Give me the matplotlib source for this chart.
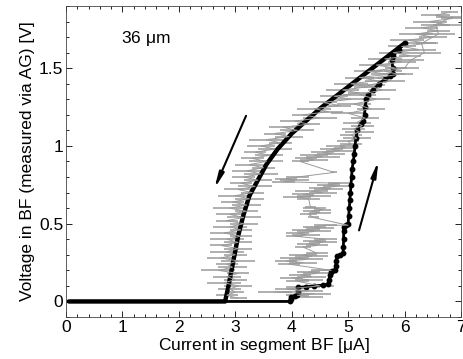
import numpy as np
import matplotlib
matplotlib.use('Agg')
import matplotlib.pyplot as plt
from matplotlib.ticker import MultipleLocator, FormatStrFormatter

plt.rcParams['font.family'] = ['Liberation Sans', 'DejaVu Sans']
plt.rcParams['mathtext.fontset'] = 'custom'

# black curve, current sweep down (V vs I)
down_i = [6.0, 5.5, 5.0, 4.5, 4.0, 3.75, 3.55, 3.4, 3.25, 3.14, 3.05, 2.96, 2.88, 2.82, 2.0, 1.0, 0.05]
down_v = [1.66, 1.52, 1.38, 1.24, 1.08, 0.98, 0.88, 0.78, 0.68, 0.55, 0.42, 0.25, 0.10, 0.0, 0.0, 0.0, 0.0]

# black curve, current sweep up (steps)
up_i = [0.05, 1.0, 2.0, 3.0, 3.97, 3.98, 3.99, 4.05, 4.10, 4.11, 4.12, 4.25, 4.40, 4.55, 4.65, 4.66, 4.68,
        4.69, 4.72, 4.77, 4.78, 4.79, 4.80, 4.85, 4.91, 4.915, 4.92, 4.92, 4.93, 4.97, 5.00, 5.01, 5.02,
        5.03, 5.04, 5.05, 5.06, 5.07, 5.09, 5.11, 5.12, 5.14, 5.16, 5.22, 5.27, 5.29, 5.30, 5.32, 5.36,
        5.44, 5.55, 5.65, 5.75, 5.80, 5.79, 5.78, 5.80, 5.90, 6.00]
up_v = [0.0, 0.0, 0.0, 0.0, 0.0, 0.015, 0.03, 0.035, 0.04, 0.06, 0.09, 0.095, 0.10, 0.105, 0.11, 0.14, 0.17,
        0.19, 0.195, 0.20, 0.23, 0.26, 0.29, 0.30, 0.31, 0.35, 0.40, 0.45, 0.48, 0.49, 0.50, 0.55, 0.60,
        0.65, 0.70, 0.75, 0.80, 0.85, 0.90, 0.95, 1.00, 1.05, 1.10, 1.14, 1.16, 1.20, 1.25, 1.30, 1.33,
        1.36, 1.40, 1.43, 1.45, 1.46, 1.50, 1.55, 1.58, 1.62, 1.66]

# gray measured trace, sweep up (zig-zag clusters), with horizontal error
gu_i = [4.30, 4.10, 4.40, 3.70, 4.30, 3.90, 4.20, 4.50,
        4.10, 4.30, 4.00, 4.35, 4.15, 4.45, 4.30, 4.55, 4.70,
        3.95, 4.20, 3.90, 4.25, 4.05, 4.35, 4.20, 4.45,
        4.20, 4.45, 4.30, 4.55, 4.40, 4.60,
        4.05, 4.25, 4.10, 4.40, 4.25, 4.50, 4.40, 4.60, 5.00,
        4.38, 4.30, 4.50, 4.35, 4.55, 4.40, 4.33,
        4.30, 4.10, 4.40, 4.20, 4.55, 4.35, 4.65, 4.50, 4.80, 4.65, 4.85,
        3.85, 4.05, 3.90, 4.10, 4.75,
        4.15, 4.40, 4.25, 4.55, 4.40, 4.70, 4.55, 4.85, 4.70, 4.95, 4.85, 5.05,
        5.00, 5.15, 5.05, 5.20, 5.10, 5.25, 5.15,
        5.30, 5.00, 5.40, 5.10, 5.50, 5.20, 5.60, 5.35, 5.75, 5.50, 5.90, 5.65, 6.00,
        6.10, 6.35, 6.30, 6.60, 6.55, 6.85]
gu_v = [0.03, 0.04, 0.05, 0.06, 0.07, 0.08, 0.09, 0.10,
        0.13, 0.14, 0.15, 0.16, 0.17, 0.18, 0.19, 0.20, 0.20,
        0.24, 0.25, 0.26, 0.27, 0.28, 0.29, 0.30, 0.31,
        0.35, 0.36, 0.37, 0.38, 0.39, 0.40,
        0.42, 0.43, 0.44, 0.45, 0.46, 0.47, 0.48, 0.49, 0.49,
        0.54, 0.56, 0.57, 0.58, 0.59, 0.60, 0.61,
        0.66, 0.67, 0.68, 0.69, 0.70, 0.71, 0.72, 0.73, 0.74, 0.75, 0.76,
        0.77, 0.78, 0.79, 0.80, 0.83,
        0.90, 0.91, 0.92, 0.93, 0.94, 0.95, 0.96, 0.97, 0.98, 0.99, 1.00, 1.01,
        1.03, 1.05, 1.07, 1.09, 1.11, 1.13, 1.15,
        1.18, 1.21, 1.24, 1.27, 1.30, 1.33, 1.36, 1.39, 1.42, 1.44, 1.46, 1.48, 1.50,
        1.55, 1.60, 1.66, 1.72, 1.78, 1.83]
gu_err = [0.25, 0.20, 0.30, 0.30, 0.25, 0.20, 0.30, 0.25,
          0.20, 0.25, 0.20, 0.25, 0.20, 0.25, 0.20, 0.20, 0.10,
          0.20, 0.25, 0.20, 0.30, 0.25, 0.30, 0.25, 0.20,
          0.15, 0.20, 0.20, 0.25, 0.20, 0.20,
          0.15, 0.25, 0.20, 0.30, 0.25, 0.25, 0.20, 0.20, 0.05,
          0.10, 0.15, 0.20, 0.15, 0.15, 0.20, 0.10,
          0.20, 0.25, 0.30, 0.20, 0.25, 0.30, 0.25, 0.20, 0.25, 0.20, 0.20,
          0.20, 0.25, 0.20, 0.20, 0.05,
          0.15, 0.25, 0.20, 0.30, 0.25, 0.25, 0.20, 0.25, 0.20, 0.20, 0.25, 0.20,
          0.20, 0.25, 0.20, 0.25, 0.20, 0.20, 0.25,
          0.25, 0.30, 0.25, 0.30, 0.25, 0.30, 0.25, 0.30, 0.25, 0.30, 0.25, 0.30, 0.25,
          0.25, 0.30, 0.25, 0.30, 0.25, 0.30]

# gray measured trace, sweep down
gd_i = [6.80, 6.55, 6.85, 6.45, 6.75, 6.30, 6.60, 6.20, 6.50, 6.05, 6.40, 5.95, 6.25, 5.80, 6.10, 5.65,
        5.95, 5.50, 5.85, 5.35, 5.70, 5.20, 5.50, 5.05, 5.35, 4.90, 5.20, 4.75, 5.05, 4.55, 4.85, 4.40,
        4.65, 4.20, 4.50, 4.05, 4.30, 3.85, 4.10, 3.70, 3.95, 3.55, 3.80, 3.45, 3.70, 3.35, 3.60, 3.30,
        3.55, 3.25, 3.50, 3.20, 3.45, 3.15, 3.40, 3.10, 3.35, 3.05, 3.30, 3.00, 3.25, 2.95, 3.20, 2.90,
        3.20, 2.90, 3.15, 2.85, 3.15, 2.90, 3.10, 2.80, 3.10, 2.85, 3.05, 2.75, 3.05, 2.85, 3.00, 2.75,
        3.05, 2.85, 2.95, 2.70, 3.05, 2.85, 3.00, 2.80, 3.05, 2.90, 3.00, 2.85, 3.05]
gd_v = [1.86, 1.84, 1.82, 1.80, 1.78, 1.76, 1.74, 1.72, 1.70, 1.68, 1.66, 1.64, 1.62, 1.60, 1.58, 1.56,
        1.54, 1.52, 1.50, 1.48, 1.46, 1.44, 1.42, 1.40, 1.38, 1.36, 1.34, 1.32, 1.30, 1.28, 1.26, 1.24,
        1.22, 1.20, 1.18, 1.16, 1.14, 1.12, 1.10, 1.08, 1.06, 1.04, 1.02, 1.00, 0.98, 0.96, 0.94, 0.92,
        0.90, 0.88, 0.86, 0.84, 0.82, 0.80, 0.78, 0.76, 0.74, 0.72, 0.70, 0.68, 0.66, 0.64, 0.62, 0.60,
        0.58, 0.56, 0.54, 0.52, 0.50, 0.48, 0.46, 0.44, 0.42, 0.40, 0.38, 0.36, 0.34, 0.32, 0.30, 0.28,
        0.26, 0.24, 0.22, 0.20, 0.18, 0.16, 0.14, 0.12, 0.10, 0.08, 0.06, 0.04, 0.02]
gd_err = [0.15, 0.25, 0.20, 0.30, 0.25, 0.30, 0.20, 0.30, 0.25, 0.30, 0.20, 0.25, 0.30, 0.25, 0.20, 0.30,
          0.25, 0.30, 0.20, 0.25, 0.30, 0.25, 0.20, 0.30, 0.25, 0.30, 0.20, 0.25, 0.30, 0.25, 0.20, 0.30,
          0.25, 0.20, 0.30, 0.25, 0.20, 0.25, 0.30, 0.20, 0.25, 0.30, 0.20, 0.25, 0.30, 0.20, 0.25, 0.20,
          0.30, 0.25, 0.20, 0.25, 0.30, 0.20, 0.25, 0.20, 0.30, 0.25, 0.20, 0.30, 0.25, 0.20, 0.25, 0.30,
          0.20, 0.25, 0.30, 0.20, 0.25, 0.30, 0.20, 0.25, 0.20, 0.30, 0.25, 0.20, 0.25, 0.30, 0.20, 0.25,
          0.30, 0.20, 0.25, 0.30, 0.20, 0.25, 0.20, 0.30, 0.25, 0.20, 0.15, 0.20, 0.15]

# direction arrows: (tail, head)
arrow_down = [(3.21, 1.21), (2.61, 0.71)]
arrow_up = [(5.18, 0.44), (5.55, 0.92)]

fig = plt.figure(figsize=(4.63, 3.59), dpi=100)
ax = fig.add_axes([66 / 463, 42 / 359, 395 / 463, 311 / 359])

gray = '#9a9a9a'
ax.errorbar(gu_i, gu_v, xerr=gu_err, color=gray, lw=0.7, elinewidth=1.1, capsize=0)
ax.errorbar(gd_i, gd_v, xerr=gd_err, color=gray, lw=0.7, elinewidth=1.1, capsize=0)

ax.plot(up_i, up_v, '-', color='black', lw=2.0)
ax.plot(up_i[4:], up_v[4:], 'o', color='black', ms=3.2)
ax.plot(down_i, down_v, '-', color='black', lw=3.2, solid_capstyle='round')

for (x0, y0), (x1, y1) in (arrow_down, arrow_up):
    ax.annotate('', xy=(x1, y1), xytext=(x0, y0),
                arrowprops=dict(arrowstyle='-|>,head_length=0.9,head_width=0.15', color='black', lw=1.5))

ax.text(0.97, 1.69, '36 $\\mathregular{\\mu}$m', fontsize=12.5, va='center', ha='left')

ax.set_xlim(0, 7)
ax.set_ylim(-0.1, 1.9)
ax.xaxis.set_major_locator(MultipleLocator(1))
ax.xaxis.set_minor_locator(MultipleLocator(0.2))
ax.yaxis.set_major_locator(MultipleLocator(0.5))
ax.yaxis.set_minor_locator(MultipleLocator(0.1))
ax.yaxis.set_major_formatter(FormatStrFormatter('%g'))
ax.tick_params(which='both', direction='in', top=True, right=True, labelsize=12.5, width=0.6)
ax.tick_params(which='major', length=4, pad=2)
ax.tick_params(which='minor', length=2)
for s in ax.spines.values():
    s.set_linewidth(0.6)
    s.set_color('#444444')

ax.set_xlabel('Current in segment BF [$\\mathregular{\\mu}$A]', fontsize=12.5, labelpad=1)
ax.set_ylabel('Voltage in BF (measured via AG) [V]', fontsize=12.5, labelpad=3)

fig.savefig('out.png', dpi=100)
